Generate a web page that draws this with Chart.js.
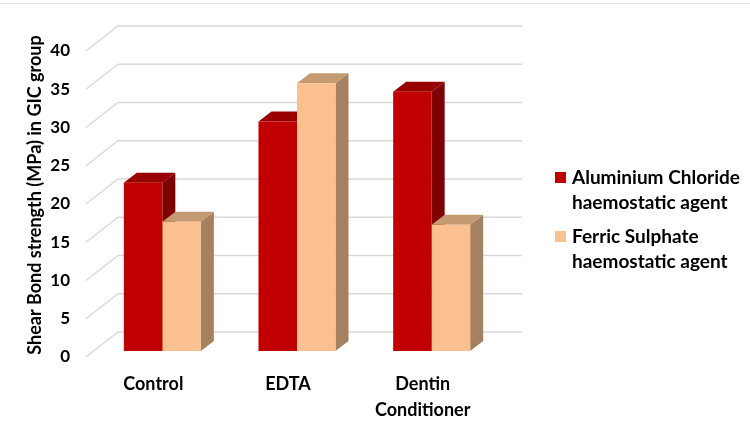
<!DOCTYPE html>
<html>
<head>
<meta charset="utf-8">
<script src="https://cdn.jsdelivr.net/npm/chart.js@4"></script>
<style>
html,body{margin:0;padding:0;background:#fff;}
#wrap{width:750px;height:426px;}
</style>
</head>
<body>
<div id="wrap"><canvas id="c" width="750" height="426"></canvas></div>
<script>
// ---- data ----
const categories = [['Control'], ['EDTA'], ['Dentin', 'Conditioner']];
const aluminiumChloride = [22, 30, 33.9];
const ferricSulphate = [16.9, 35, 16.5];
const seriesNames = [['Aluminium Chloride', 'haemostatic agent'], ['Ferric Sulphate', 'haemostatic agent']];
const yMin = 0, yMax = 40, yStep = 5;
const yTitle = 'Shear Bond strength (MPa) in GIC group';

// ---- style ----
const FONT = 'Lato';
const faceColors = [
  {front: '#C00000', top: '#990000', side: '#7F0000'},
  {front: '#FAC090', top: '#C49A72', side: '#A58160'}
];
const WALL = {dx: 32, dy: -25};
const SHIFT = {dx: 9, dy: -6};
const DEPTH = {dx: 13, dy: -10};

function poly(ctx, pts) {
  ctx.beginPath();
  ctx.moveTo(pts[0][0], pts[0][1]);
  for (let i = 1; i < pts.length; i++) ctx.lineTo(pts[i][0], pts[i][1]);
  ctx.closePath();
  ctx.fill();
}

const threeD = {
  id: 'threeD',
  beforeDraw(chart) {
    const ctx = chart.ctx;
    ctx.save();
    ctx.strokeStyle = '#E3E3E3';
    ctx.lineWidth = 1;
    ctx.beginPath();
    ctx.moveTo(0, 3.5); ctx.lineTo(chart.width, 3.5);
    ctx.stroke();
    ctx.restore();
  },
  beforeDatasetsDraw(chart) {
    const {ctx, chartArea: a, scales: {y}} = chart;
    ctx.save();
    ctx.strokeStyle = '#D9D9D9';
    ctx.lineWidth = 1.3;
    y.ticks.forEach(t => {
      const yy = y.getPixelForValue(t.value);
      ctx.beginPath();
      ctx.moveTo(a.left, yy);
      ctx.lineTo(a.left + WALL.dx, yy + WALL.dy);
      ctx.lineTo(a.right + WALL.dx, yy + WALL.dy);
      ctx.stroke();
    });
    ctx.restore();

    ctx.save();
    ctx.translate(SHIFT.dx, SHIFT.dy);
    const n = chart.data.labels.length;
    for (let i = 0; i < n; i++) {
      for (let d = 0; d < chart.data.datasets.length; d++) {
        const el = chart.getDatasetMeta(d).data[i];
        const p = el.getProps(['x', 'y', 'base', 'width'], true);
        const x0 = p.x - p.width / 2, x1 = p.x + p.width / 2;
        const top = p.y, base = p.base;
        ctx.fillStyle = faceColors[d].side;
        poly(ctx, [[x1, top], [x1 + DEPTH.dx, top + DEPTH.dy], [x1 + DEPTH.dx, base + DEPTH.dy], [x1, base]]);
        ctx.fillStyle = faceColors[d].top;
        poly(ctx, [[x0, top], [x1, top], [x1 + DEPTH.dx, top + DEPTH.dy], [x0 + DEPTH.dx, top + DEPTH.dy]]);
      }
    }
    // translation kept for the library's own front faces; restored below
  },
  afterDatasetsDraw(chart) {
    chart.ctx.restore();
  },
  afterDraw(chart) {
    const ctx = chart.ctx;
    // y-axis title
    ctx.save();
    ctx.translate(35, 195);
    ctx.rotate(-Math.PI / 2);
    ctx.font = 'bold 18px ' + FONT;
    ctx.fillStyle = '#000';
    ctx.textAlign = 'center';
    ctx.textBaseline = 'middle';
    ctx.fillText(yTitle, 0, 0);
    ctx.restore();
    // legend
    ctx.save();
    ctx.font = 'bold 19px ' + FONT;
    ctx.textBaseline = 'middle';
    ctx.textAlign = 'left';
    const rows = [178, 237];
    seriesNames.forEach((lines, d) => {
      const cy = rows[d];
      ctx.fillStyle = faceColors[d].front;
      ctx.fillRect(555, cy - 6, 11, 11);
      ctx.fillStyle = '#000';
      lines.forEach((ln, k) => ctx.fillText(ln, 572, cy + k * 25));
    });
    ctx.restore();
  }
};

new Chart(document.getElementById('c').getContext('2d'), {
  type: 'bar',
  data: {
    labels: categories,
    datasets: [
      {label: seriesNames[0].join(' '), data: aluminiumChloride, backgroundColor: faceColors[0].front, borderWidth: 0, clip: false},
      {label: seriesNames[1].join(' '), data: ferricSulphate, backgroundColor: faceColors[1].front, borderWidth: 0, clip: false}
    ]
  },
  options: {
    responsive: false,
    animation: false,
    events: [],
    layout: {padding: {left: 0, top: 51, right: 260, bottom: 0}},
    datasets: {bar: {categoryPercentage: 0.572, barPercentage: 1}},
    plugins: {legend: {display: false}, tooltip: {enabled: false}},
    scales: {
      x: {
        grid: {display: false, drawTicks: false},
        border: {display: false},
        ticks: {font: {family: FONT, size: 18, weight: 'bold', lineHeight: 1.4}, color: '#000', padding: 15, maxRotation: 0, autoSkip: false},
        afterFit(s) { s.height = 69; }
      },
      y: {
        min: yMin, max: yMax,
        grid: {display: false, drawTicks: false},
        border: {display: false},
        ticks: {stepSize: yStep, font: {family: FONT, size: 17, weight: 'bold'}, color: '#000', padding: 16},
        afterFit(s) { s.width = 86; }
      }
    }
  },
  plugins: [threeD]
});
</script>
</body>
</html>
